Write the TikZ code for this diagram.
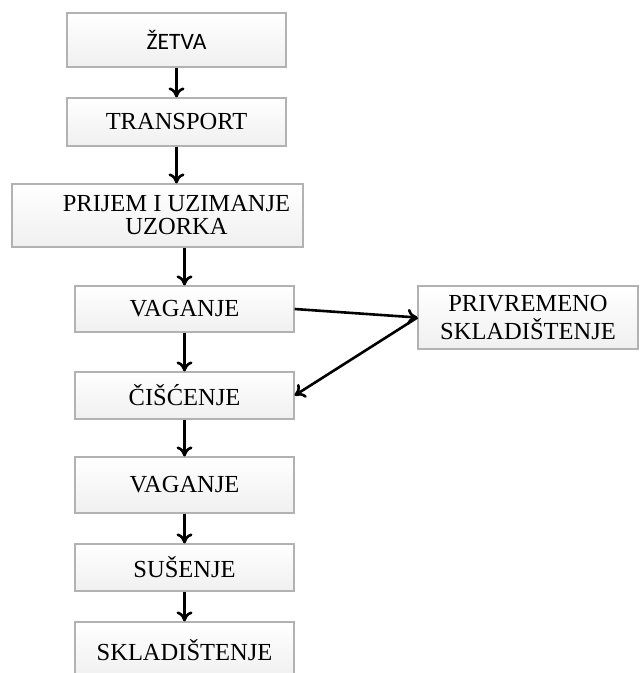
\documentclass[tikz,border=0pt]{standalone}
\usepackage{fontspec}
\setmainfont{Liberation Serif}
\newfontfamily\calfont{Carlito}
\usetikzlibrary{arrows,arrows.meta,positioning}
\tikzset{
  basic/.style = {draw=gray!60, line width=1.2pt, top color=white, bottom color=gray!12, font=\fontsize{24.5}{28}\selectfont, rectangle, align=center, inner sep=2pt},
  stage/.style = {basic, minimum width=219pt, minimum height=47pt},
  wide/.style  = {basic, minimum width=291pt, minimum height=63pt},
  store/.style = {basic, minimum width=220pt, minimum height=63pt},
  flow/.style  = {-{To[length=10pt,width=16pt]}, line width=2.6pt}
}

\begin{document}
\begin{tikzpicture}[
  x=1pt, y=1pt,
  node distance=85pt]
\useasboundingbox (0,0) rectangle (640,-673);

% main line, top to bottom
\node[stage, minimum height=54pt, font=\calfont\fontsize{23.5}{26}\selectfont] (zetva) at (176.5,-40) {ŽETVA};
\node[stage, below of = zetva, yshift=3pt, minimum height=48pt] (transport) {TRANSPORT};
\node[wide, below of = transport, yshift=-8.5pt, xshift=-19pt, font=\fontsize{24.5}{23}\selectfont] (prijem) {\hspace*{38pt}PRIJEM I UZIMANJE\\\hspace*{38pt}UZORKA};
\node[stage, below of = prijem, yshift=-8.5pt, xshift=27pt, minimum height=46pt] (vag1) {VAGANJE};
\node[stage, below of = vag1, yshift=-1.5pt] (cisc) {ČIŠĆENJE};
\node[stage, below of = cisc, yshift=-4.5pt, minimum height=56pt] (vag2) {VAGANJE};
\node[stage, below of = vag2, yshift=2.5pt] (suse) {SUŠENJE};
\node[stage, below of = suse, yshift=2pt, minimum height=57pt] (sklad) {SKLADIŠTENJE};

% side store
\node[store, right of = vag1, xshift=258.5pt, yshift=-8.5pt] (privr) {PRIVREMENO\\SKLADIŠTENJE};

% connectors
\draw[flow] (zetva) -- (transport);
\draw[flow] (transport.south) -- (transport.south |- prijem.north);
\draw[flow] (vag1.north |- prijem.south) -- (vag1.north);
\draw[flow] (vag1) -- (cisc);
\draw[flow] (cisc) -- (vag2);
\draw[flow] (vag2) -- (suse);
\draw[flow] (suse) -- (sklad);
\draw[flow] (vag1.east) -- (privr.west);
\draw[flow] (privr.west) -- (cisc.east);
\end{tikzpicture}
\end{document}
